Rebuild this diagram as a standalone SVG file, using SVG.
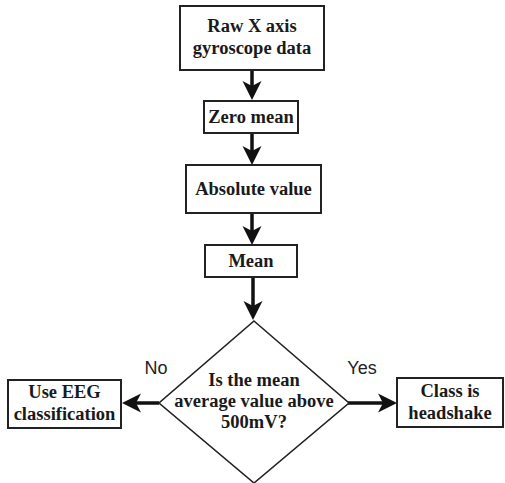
<svg xmlns="http://www.w3.org/2000/svg" width="505" height="483" viewBox="0 0 505 483">
<defs>
<marker id="ah" markerUnits="userSpaceOnUse" markerWidth="24" markerHeight="24" viewBox="-20 -12 24 24" refX="-12" refY="0" orient="auto">
<path d="M0,0 L-19,-9.5 L-14,0 L-19,9.5 Z" fill="#111"/>
</marker>
<style>
.box{fill:#fff;stroke:#222;stroke-width:2}
.dia{fill:#fff;stroke:#222;stroke-width:1.6}
.t{font-family:"Liberation Serif","Times New Roman",serif;font-weight:bold;font-size:18.5px;fill:#1a1a1a;text-anchor:middle}
.lab{font-family:"Liberation Sans",Arial,sans-serif;font-size:18px;fill:#222;text-anchor:middle}
.c{stroke:#111;stroke-width:3.5;fill:none;marker-end:url(#ah)}
</style>
</defs>
<g id="connectors">
<line class="c" x1="252" y1="70" x2="252" y2="88"/>
<line class="c" x1="252" y1="133" x2="252" y2="153"/>
<line class="c" x1="252" y1="213" x2="252" y2="233"/>
<line class="c" x1="253" y1="277" x2="253" y2="308"/>
<line class="c" x1="159" y1="403" x2="134" y2="403"/>
<line class="c" x1="348" y1="403" x2="385" y2="403"/>
<text class="lab" x="156" y="374">No</text>
<text class="lab" x="362" y="374">Yes</text>
</g>
<g id="raw">
<rect class="box" x="180" y="6" width="144" height="64"/>
<text class="t" x="252" y="32">Raw X axis</text>
<text class="t" x="252" y="54">gyroscope data</text>
</g>
<g id="zeromean">
<rect class="box" x="204" y="101" width="94" height="32"/>
<text class="t" x="251" y="123">Zero mean</text>
</g>
<g id="absolute">
<rect class="box" x="186" y="165" width="135" height="48"/>
<text class="t" x="253.5" y="195">Absolute value</text>
</g>
<g id="mean">
<rect class="box" x="205" y="245" width="92" height="32"/>
<text class="t" x="251" y="267">Mean</text>
</g>
<g id="decision">
<polygon class="dia" points="254,321 349,403 254,483 159,403"/>
<text class="t" x="254" y="386">Is the mean</text>
<text class="t" x="254" y="407">average value above</text>
<text class="t" x="254" y="428">500mV?</text>
</g>
<g id="eeg">
<rect class="box" x="8" y="380" width="113" height="48"/>
<text class="t" x="64.5" y="398">Use EEG</text>
<text class="t" x="64.5" y="420">classification</text>
</g>
<g id="headshake">
<rect class="box" x="397" y="378" width="106" height="49"/>
<text class="t" x="450" y="397">Class is</text>
<text class="t" x="450" y="419">headshake</text>
</g>
</svg>
